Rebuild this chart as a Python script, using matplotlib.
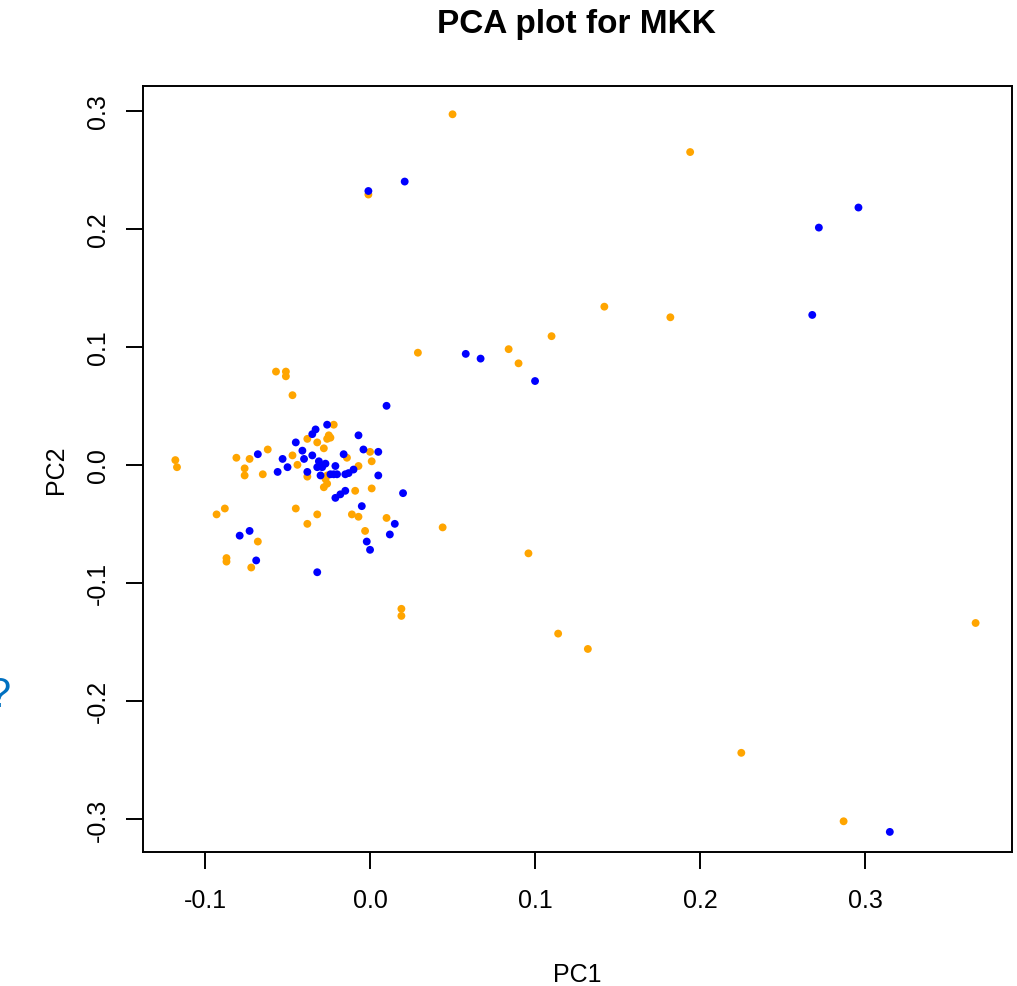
import matplotlib.pyplot as plt

# PC1 / PC2 scores
orange_pc1 = [0.050, 0.194, -0.001, 0.142, 0.182, 0.110, 0.029, 0.084, 0.090, -0.057,
              -0.051, -0.051, -0.047, -0.118, -0.117, 0.044, 0.096, 0.019, 0.019, 0.114,
              0.132, 0.367, 0.225, 0.287, -0.081, -0.073, -0.076, -0.076, -0.065, -0.062,
              -0.093, -0.088, -0.068, -0.087, -0.087, -0.072, -0.045, -0.032, -0.038, -0.011,
              -0.007, -0.003, 0.010, -0.009, 0.001, 0.001, 0.000, -0.007, -0.047, -0.044,
              -0.038, -0.032, -0.028, -0.026, -0.025, -0.024, -0.022, -0.014, -0.038, -0.027,
              -0.026, -0.028, -0.026]
orange_pc2 = [0.297, 0.265, 0.229, 0.134, 0.125, 0.109, 0.095, 0.098, 0.086, 0.079,
              0.079, 0.075, 0.059, 0.004, -0.002, -0.053, -0.075, -0.122, -0.128, -0.143,
              -0.156, -0.134, -0.244, -0.302, 0.006, 0.005, -0.003, -0.009, -0.008, 0.013,
              -0.042, -0.037, -0.065, -0.079, -0.082, -0.087, -0.037, -0.042, -0.050, -0.042,
              -0.044, -0.056, -0.045, -0.022, -0.020, 0.003, 0.011, -0.001, 0.008, 0.000,
              0.022, 0.019, 0.014, 0.022, 0.025, 0.023, 0.034, 0.006, -0.010, -0.012,
              -0.009, -0.019, -0.016]

blue_pc1 = [-0.001, 0.021, 0.296, 0.272, 0.268, 0.058, 0.067, 0.100, 0.010, 0.020,
            0.015, 0.012, -0.002, 0.000, -0.005, 0.005, 0.005, -0.004, -0.007, -0.016,
            -0.026, -0.035, -0.033, -0.045, -0.041, -0.040, -0.035, -0.053, -0.050, -0.056,
            -0.068, -0.038, -0.031, -0.032, -0.029, -0.027, -0.030, -0.024, -0.022, -0.020,
            -0.021, -0.013, -0.010, -0.015, -0.021, -0.018, -0.015, -0.079, -0.073, -0.069,
            -0.032, 0.315]
blue_pc2 = [0.232, 0.240, 0.218, 0.201, 0.127, 0.094, 0.090, 0.071, 0.050, -0.024,
            -0.050, -0.059, -0.065, -0.072, -0.035, -0.009, 0.011, 0.013, 0.025, 0.009,
            0.034, 0.026, 0.030, 0.019, 0.012, 0.005, 0.008, 0.005, -0.002, -0.006,
            0.009, -0.006, 0.003, -0.002, -0.002, 0.001, -0.009, -0.008, -0.008, -0.008,
            -0.001, -0.007, -0.004, -0.008, -0.028, -0.025, -0.022, -0.060, -0.056, -0.081,
            -0.091, -0.311]

x_ticks = [-0.1, 0.0, 0.1, 0.2, 0.3]
y_ticks = [-0.3, -0.2, -0.1, 0.0, 0.1, 0.2, 0.3]

plt.rcParams['font.family'] = ['Liberation Sans', 'DejaVu Sans']

dpi = 100
fig = plt.figure(figsize=(1017 / dpi, 987 / dpi), dpi=dpi)
ax = fig.add_axes([0.1406, 0.1358, 0.8544, 0.7761])

ax.scatter(orange_pc1, orange_pc2, s=32, color='#FFA500', edgecolors='none')
ax.scatter(blue_pc1, blue_pc2, s=32, color='#0000FF', edgecolors='none')

ax.set_xlim(-0.1376, 0.389)
ax.set_ylim(-0.328, 0.321)
ax.set_xticks(x_ticks)
ax.set_xticklabels(['%.1f' % v for v in x_ticks])
ax.set_yticks(y_ticks)
ax.set_yticklabels(['%.1f' % v for v in y_ticks], rotation=90, va='center')

for sp in ax.spines.values():
    sp.set_linewidth(1.4)
ax.tick_params(axis='both', direction='out', length=12, width=1.4, labelsize=18)
ax.tick_params(axis='x', pad=14)
ax.tick_params(axis='y', pad=12)

ax.set_xlabel('PC1', fontsize=18, labelpad=36)
ax.set_ylabel('PC2', fontsize=18, labelpad=13)
fig.text(0.5665, 0.975, 'PCA plot for MKK', ha='center', va='center',
         fontsize=24, fontweight='bold')

# cut-off glyph at left edge of the screenshot
fig.text(-0.012, 0.295, '?', color='#0070C0', fontsize=30, va='center')

fig.savefig('out.png', dpi=dpi)
